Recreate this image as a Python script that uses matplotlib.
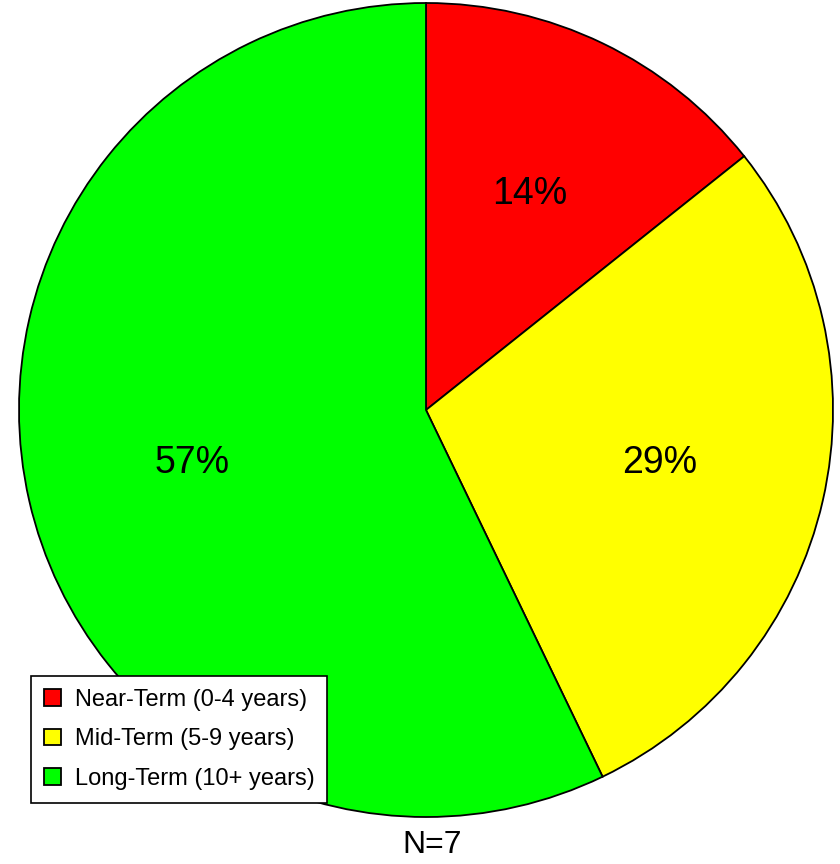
import matplotlib
matplotlib.use("Agg")
import matplotlib.pyplot as plt

labels = ["Near-Term (0-4 years)", "Mid-Term (5-9 years)", "Long-Term (10+ years)"]
counts = [1, 2, 4]
colors = ["#ff0000", "#ffff00", "#00ff00"]

plt.rcParams['font.family'] = ['Liberation Sans', 'DejaVu Sans']

fig = plt.figure(figsize=(8.4, 8.64), dpi=100)
ax = fig.add_axes([19/840, 47/864, 814/840, 814/864])

wedges, texts, autotexts = ax.pie(counts, colors=colors, startangle=90, counterclock=False,
                                  autopct=lambda p: "%d%%" % round(p), pctdistance=0.59,
                                  wedgeprops=dict(edgecolor="black", linewidth=1.3),
                                  textprops=dict(fontsize=27))
ax.set_xlim(-1, 1)
ax.set_ylim(-1, 1)
ax.set_aspect("equal")
ax.axis("off")

leg = fig.legend(wedges, labels, loc="lower left", bbox_to_anchor=(31/840, (864-803)/864),
                 fontsize=17, frameon=True, fancybox=False, edgecolor="black", framealpha=1,
                 handlelength=0.7, handleheight=0.7, handletextpad=0.6,
                 labelspacing=0.75, borderpad=0.55, borderaxespad=0)
leg.get_frame().set_linewidth(1.2)

fig.text(432/840, 1 - 845/864, "N=7", ha="center", va="center", fontsize=23)

fig.savefig("out.png", dpi=100)
